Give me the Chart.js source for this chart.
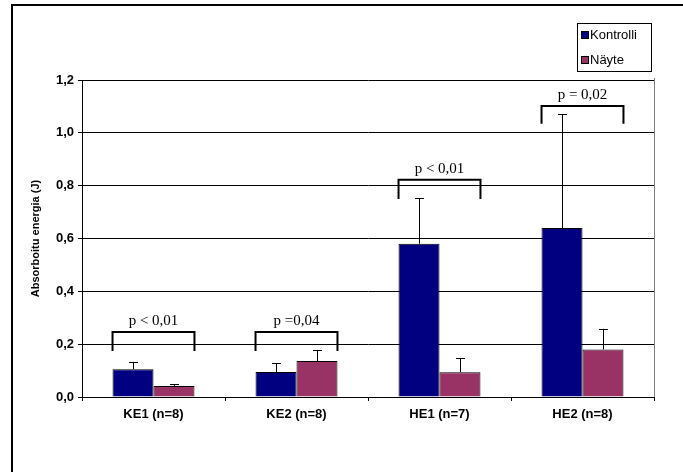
<!DOCTYPE html>
<html>
<head>
<meta charset="utf-8">
<script src="https://cdn.jsdelivr.net/npm/chart.js@4/dist/chart.umd.min.js"></script>
<style>
  html, body { margin: 0; padding: 0; background: #fff; }
  #wrap { width: 683px; height: 472px; position: relative; }
</style>
</head>
<body>
<div id="wrap"><canvas id="chart"></canvas></div>
<script>
const categories = ['KE1 (n=8)', 'KE2 (n=8)', 'HE1 (n=7)', 'HE2 (n=8)']
const kontrolli = [0.105, 0.095, 0.58, 0.64]
const kontrolliErr = [0.028, 0.034, 0.173, 0.43]
const nayte = [0.042, 0.136, 0.094, 0.18]
const nayteErr = [0.007, 0.042, 0.054, 0.078]
const pLabels = ['p < 0,01', 'p =0,04', 'p < 0,01', 'p = 0,02']
const bracketTop = [0.246, 0.246, 0.822, 1.102]
const bracketLeg = [0.174, 0.174, 0.75, 1.034]
const yTicks = [0, 0.2, 0.4, 0.6, 0.8, 1.0, 1.2]

const errors = [kontrolliErr, nayteErr]

// white page, outer frame (top + left edge), grey plot border
const framePlugin = {
    id: 'frame',
    beforeDraw(chart) {
        const ctx = chart.ctx
        ctx.save()
        ctx.fillStyle = '#fff'
        ctx.fillRect(0, 0, chart.width, chart.height)
        ctx.restore()
    },
    afterDraw(chart) {
        const ctx = chart.ctx
        const a = chart.chartArea
        ctx.save()
        ctx.strokeStyle = '#000'
        ctx.lineWidth = 2
        ctx.beginPath()
        ctx.moveTo(12, chart.height)
        ctx.lineTo(12, 5)
        ctx.lineTo(chart.width, 5)
        ctx.stroke()
        ctx.strokeStyle = '#808080'
        ctx.lineWidth = 1
        ctx.beginPath()
        ctx.moveTo(Math.round(a.right) + 0.5, a.bottom)
        ctx.lineTo(Math.round(a.right) + 0.5, a.top - 2)
        ctx.stroke()
        ctx.restore()
    }
}

// upward error bars with caps
const errorBarPlugin = {
    id: 'errorBars',
    afterDatasetsDraw(chart) {
        const ctx = chart.ctx
        const y = chart.scales.y
        ctx.save()
        ctx.strokeStyle = '#000'
        ctx.lineWidth = 1
        chart.data.datasets.forEach((ds, di) => {
            const meta = chart.getDatasetMeta(di)
            meta.data.forEach((bar, i) => {
                const x = Math.round(bar.x) + 0.5
                const top = y.getPixelForValue(ds.data[i] + errors[di][i])
                ctx.beginPath()
                ctx.moveTo(x, bar.y)
                ctx.lineTo(x, top)
                ctx.moveTo(x - 4.5, Math.round(top) + 0.5)
                ctx.lineTo(x + 4.5, Math.round(top) + 0.5)
                ctx.stroke()
            })
        })
        ctx.restore()
    }
}

// significance brackets and p-values
const bracketPlugin = {
    id: 'brackets',
    afterDatasetsDraw(chart) {
        const ctx = chart.ctx
        const y = chart.scales.y
        const m0 = chart.getDatasetMeta(0)
        const m1 = chart.getDatasetMeta(1)
        ctx.save()
        ctx.strokeStyle = '#000'
        ctx.lineWidth = 2
        ctx.fillStyle = '#000'
        ctx.font = '15px "Liberation Serif", "Times New Roman", serif'
        ctx.textAlign = 'center'
        ctx.textBaseline = 'alphabetic'
        categories.forEach((c, i) => {
            const b0 = m0.data[i], b1 = m1.data[i]
            const left = b0.x - b0.width / 2
            const right = b1.x + b1.width / 2
            const top = y.getPixelForValue(bracketTop[i])
            const leg = y.getPixelForValue(bracketLeg[i])
            ctx.beginPath()
            ctx.moveTo(left, leg)
            ctx.lineTo(left, top)
            ctx.lineTo(right, top)
            ctx.lineTo(right, leg)
            ctx.stroke()
            ctx.fillText(pLabels[i], (left + right) / 2, top - 7)
        })
        ctx.restore()
    }
}

// boxed legend in the top right corner
const boxLegendPlugin = {
    id: 'boxLegend',
    afterDraw(chart) {
        const ctx = chart.ctx
        ctx.save()
        ctx.strokeStyle = '#000'
        ctx.lineWidth = 1
        ctx.fillStyle = '#fff'
        ctx.fillRect(577.5, 23.5, 74, 48)
        ctx.strokeRect(577.5, 23.5, 74, 48)
        ctx.font = '13px "Liberation Sans", Arial, sans-serif'
        ctx.textBaseline = 'middle'
        chart.data.datasets.forEach((ds, i) => {
            const cy = 35 + i * 25
            ctx.fillStyle = ds.backgroundColor
            ctx.fillRect(581.5, cy - 3.5, 7, 7)
            ctx.strokeRect(581.5, cy - 3.5, 7, 7)
            ctx.fillStyle = '#000'
            ctx.fillText(ds.label, 590, cy + 0.5)
        })
        ctx.restore()
    }
}

new Chart(document.getElementById('chart'), {
    type: 'bar',
    data: {
        labels: categories,
        datasets: [{
            label: 'Kontrolli',
            data: kontrolli,
            backgroundColor: '#000080',
            borderColor: '#000',
            borderWidth: 1
        }, {
            label: 'Näyte',
            data: nayte,
            backgroundColor: '#993366',
            borderColor: '#000',
            borderWidth: 1
        }]
    },
    options: {
        responsive: true,
        maintainAspectRatio: false,
        animation: false,
        layout: {padding: {left: 12, right: 29, top: 80, bottom: 0}},
        categoryPercentage: 0.573,
        barPercentage: 1.0,
        plugins: {
            legend: {display: false},
            tooltip: {enabled: false}
        },
        scales: {
            x: {
                grid: {
                    offset: true,
                    drawOnChartArea: false,
                    drawTicks: true,
                    tickLength: 4,
                    tickColor: '#000'
                },
                border: {color: '#000', width: 1},
                ticks: {
                    color: '#000',
                    padding: 6,
                    font: {family: '"Liberation Sans", Arial, sans-serif', size: 13, weight: 'bold'}
                },
                afterFit: (s) => { s.height = 75 }
            },
            y: {
                min: 0,
                max: 1.2,
                afterBuildTicks: (s) => { s.ticks = yTicks.map(v => ({value: v})) },
                grid: {
                    color: '#000',
                    lineWidth: 1,
                    drawTicks: true,
                    tickLength: 4,
                    tickColor: '#000'
                },
                border: {color: '#000', width: 1},
                ticks: {
                    color: '#000',
                    padding: 4,
                    font: {family: '"Liberation Sans", Arial, sans-serif', size: 13, weight: 'bold'},
                    callback: (v) => Number(v).toFixed(1).replace('.', ',')
                },
                title: {
                    display: true,
                    text: 'Absorboitu energia (J)',
                    color: '#000',
                    padding: {top: 17, bottom: 0},
                    font: {family: '"Liberation Sans", Arial, sans-serif', size: 11, weight: 'bold'}
                },
                afterFit: (s) => { s.width = 70 }
            }
        }
    },
    plugins: [framePlugin, errorBarPlugin, bracketPlugin, boxLegendPlugin]
})
</script>
</body>
</html>
